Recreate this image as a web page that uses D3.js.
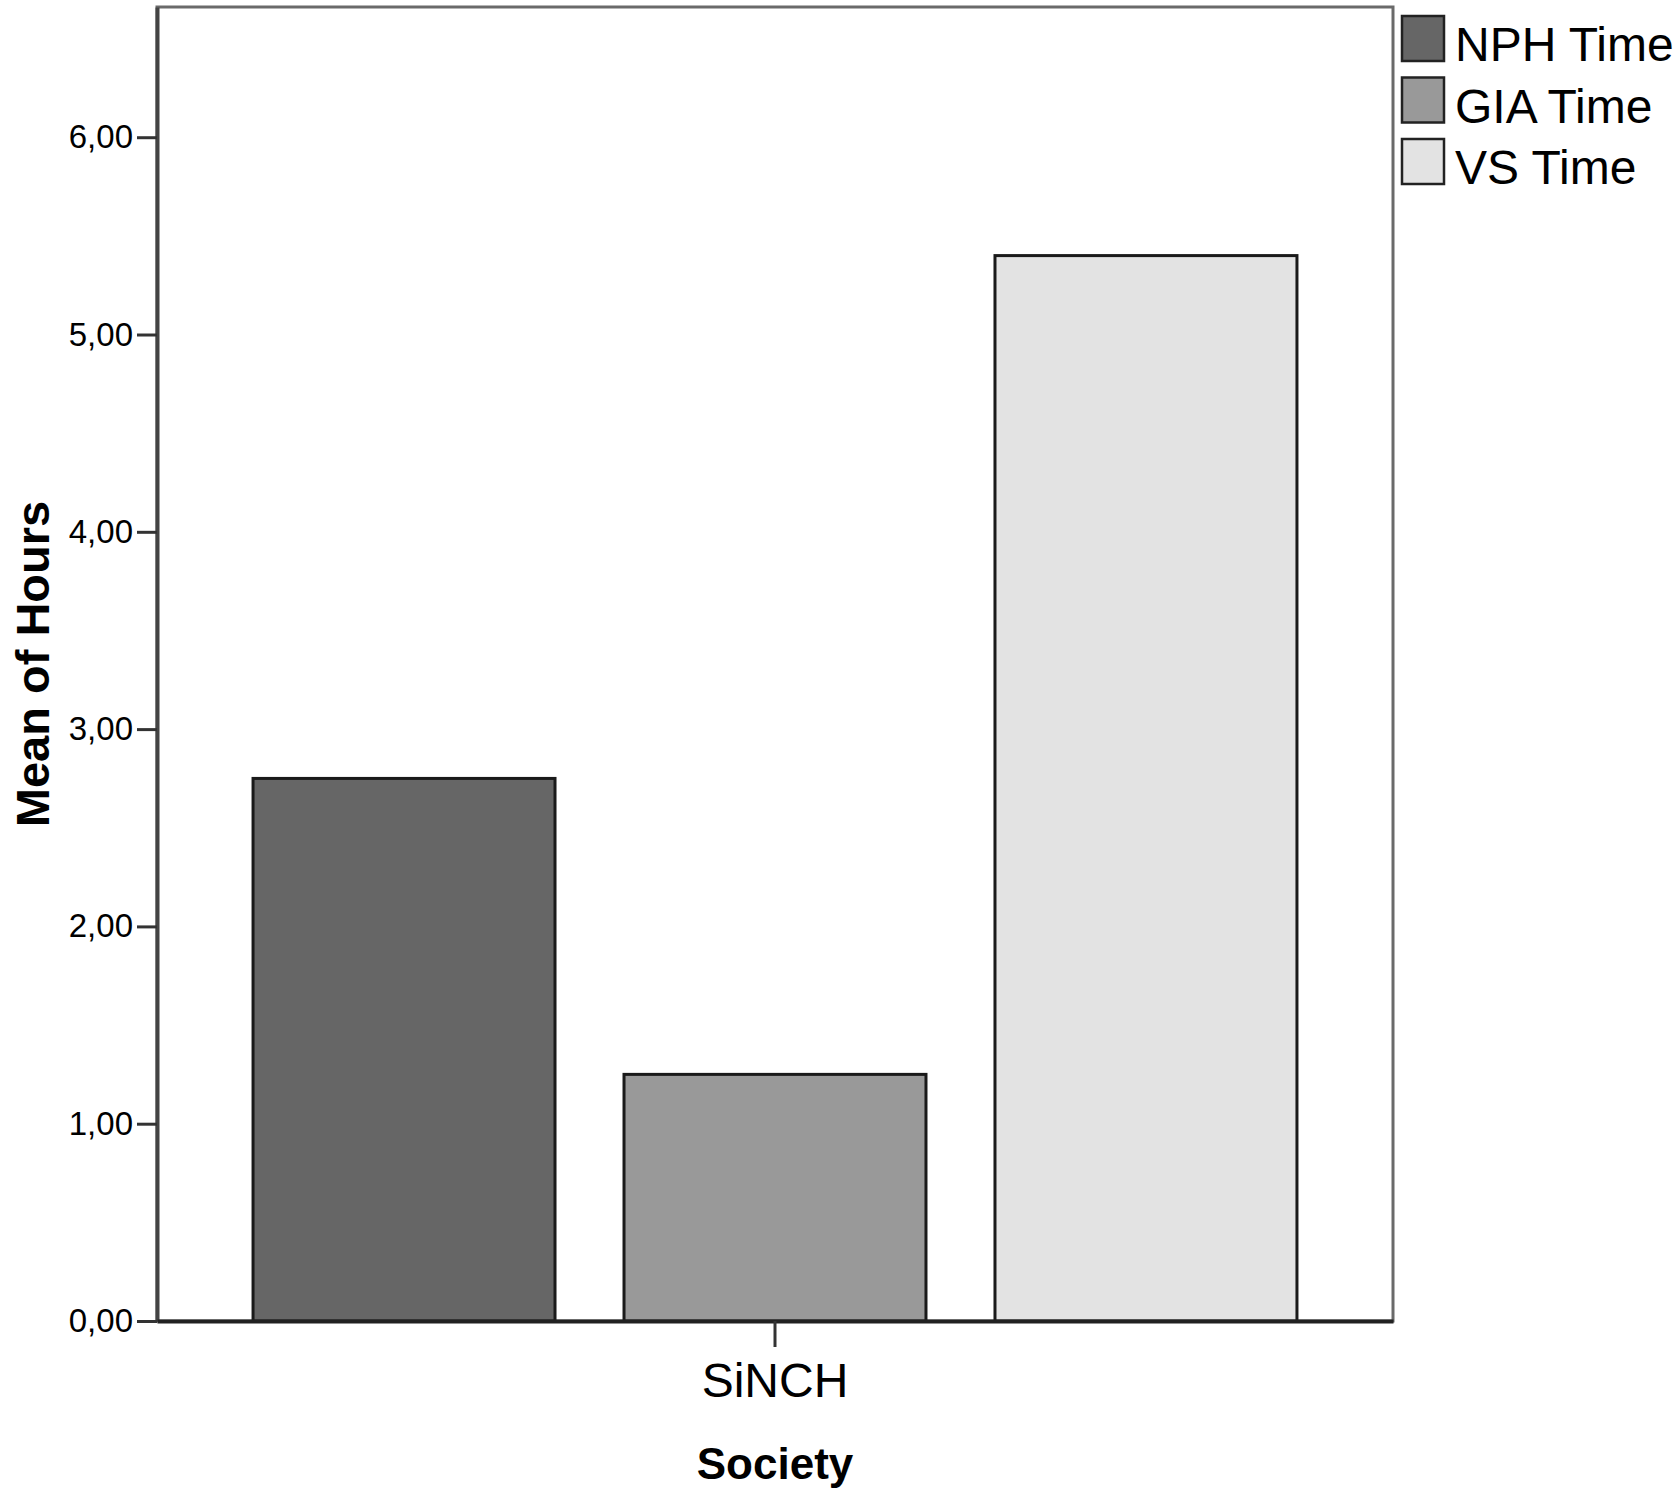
<!DOCTYPE html>
<html>
<head>
<meta charset="utf-8">
<script src="https://cdn.jsdelivr.net/npm/d3@7"></script>
<style>
  body { margin: 0; background: #fff; }
  svg { display: block; font-family: "Liberation Sans", Arial, sans-serif; }
</style>
</head>
<body>
<div id="chart"></div>
<script>
// data
var categories = ["SiNCH"];
var series = ["NPH Time", "GIA Time", "VS Time"];
var values = [2.75, 1.25, 5.40];
var seriesColors = ["#666666", "#999999", "#e3e3e3"];
var yTicks = [0, 1, 2, 3, 4, 5, 6];

var W = 1675, H = 1493;
var margin = {top: 7, right: 282, bottom: 172, left: 157},
  width = W - margin.left - margin.right,
  height = H - margin.top - margin.bottom;

var svg = d3.select('#chart')
  .append('svg')
    .attr('width', W)
    .attr('height', H);

var g = svg.append('g')
  .attr('transform', 'translate(' + margin.left + ',' + margin.top + ')');

var y = d3.scaleLinear().domain([0, 6.66]).range([height, 0]);

var x0 = d3.scaleBand().domain(categories).range([0, width])
  .paddingInner(0).paddingOuter(0.092);

var x1 = d3.scaleBand().domain(series).range([0, x0.bandwidth()])
  .paddingInner(0.186).paddingOuter(0);

var loc = d3.formatLocale({decimal: ",", thousands: ".", grouping: [3], currency: ["", ""]});
var fmt = loc.format(".2f");

// frame
g.append('rect')
  .attr('x', 0)
  .attr('y', 0)
  .attr('width', width)
  .attr('height', height)
  .attr('fill', 'none')
  .attr('stroke', '#6a6a6a')
  .attr('stroke-width', 3);

// bars
var barData = series.map(function(s, i) { return {cat: categories[0], key: s, value: values[i], color: seriesColors[i]}; });

g.selectAll('.bar')
  .data(barData).enter()
  .append('rect')
    .attr('class', 'bar')
    .attr('x', function(d) { return x0(d.cat) + x1(d.key); })
    .attr('y', function(d) { return y(d.value); })
    .attr('width', x1.bandwidth())
    .attr('height', function(d) { return height - y(d.value); })
    .attr('fill', function(d) { return d.color; })
    .attr('stroke', '#1a1a1a')
    .attr('stroke-width', 3);

// y axis
var yAxis = g.append('g')
  .call(d3.axisLeft(y).tickValues(yTicks).tickFormat(fmt).tickSize(20).tickSizeOuter(0).tickPadding(4));

yAxis.select('.domain').attr('stroke', '#444').attr('stroke-width', 4);
yAxis.selectAll('.tick line').attr('stroke', '#333').attr('stroke-width', 3);
yAxis.selectAll('.tick text')
  .attr('font-size', 33)
  .attr('font-family', '"Liberation Sans", Arial, sans-serif')
  .attr('fill', '#000');

// x axis
var xAxis = g.append('g')
  .attr('transform', 'translate(0,' + height + ')')
  .call(d3.axisBottom(x0).tickSize(26).tickPadding(16).tickSizeOuter(0));

xAxis.select('.domain').attr('stroke', '#222').attr('stroke-width', 4);
xAxis.selectAll('.tick line').attr('stroke', '#333').attr('stroke-width', 3);
xAxis.selectAll('.tick text')
  .attr('font-size', 48)
  .attr('font-family', '"Liberation Sans", Arial, sans-serif')
  .attr('fill', '#000');

// axis titles
svg.append('text')
  .attr('x', margin.left + width / 2)
  .attr('y', 1479)
  .attr('text-anchor', 'middle')
  .attr('font-size', 44)
  .attr('font-weight', 'bold')
  .text('Society');

svg.append('text')
  .attr('transform', 'translate(49,' + (margin.top + height / 2) + ') rotate(-90)')
  .attr('text-anchor', 'middle')
  .attr('font-size', 47)
  .attr('font-weight', 'bold')
  .text('Mean of Hours');

// legend
var legend = svg.append('g')
  .attr('transform', 'translate(1401,15)');

var legendItem = legend.selectAll('.legend_item')
  .data(barData).enter()
  .append('g')
    .attr('class', 'legend_item')
    .attr('transform', function(d, i) { return 'translate(0,' + (i * 61.5) + ')'; });

legendItem.append('rect')
  .attr('x', 1)
  .attr('y', 1)
  .attr('width', 42)
  .attr('height', 45)
  .attr('fill', function(d) { return d.color; })
  .attr('stroke', '#222')
  .attr('stroke-width', 2.5);

legendItem.append('text')
  .attr('x', 54)
  .attr('y', 46)
  .attr('font-size', 48)
  .attr('fill', '#000')
  .text(function(d) { return d.key; });
</script>
</body>
</html>
